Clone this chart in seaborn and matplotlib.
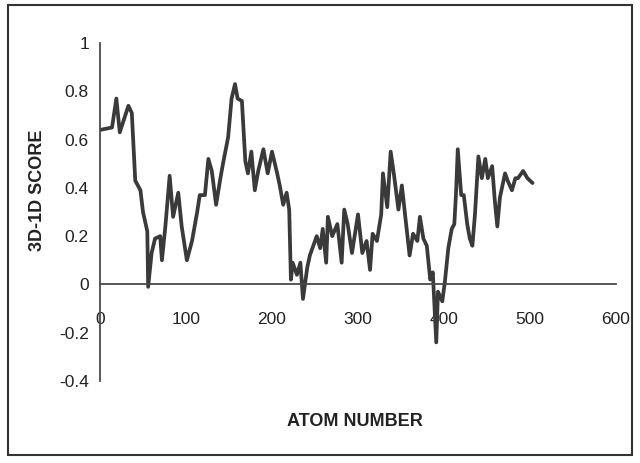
import matplotlib
matplotlib.use("Agg")
import matplotlib.pyplot as plt
from matplotlib import font_manager
from matplotlib.patches import Rectangle
import seaborn as sns
import pandas as pd

atom_number = [0, 14, 19, 23, 33, 37, 41, 47, 50, 55, 56, 60, 64, 70, 72, 76, 81, 85, 91, 95,
               101, 107, 113, 116, 122, 126, 130, 135, 140, 143, 149, 153, 157, 160, 165, 169,
               172, 176, 180, 184, 190, 195, 200, 206, 209, 213, 217, 220, 222, 224, 229, 233,
               236, 241, 244, 248, 252, 256, 259, 263, 265, 270, 276, 281, 284, 288, 293, 300,
               305, 310, 314, 317, 322, 327, 329, 334, 338, 342, 347, 351, 355, 360, 364, 369,
               372, 376, 380, 384, 387, 391, 393, 398, 401, 405, 409, 412, 414, 416, 420, 423,
               427, 430, 433, 436, 440, 444, 448, 451, 456, 459, 462, 465, 471, 474, 479, 483,
               486, 492, 497, 503]
score = [0.64, 0.65, 0.77, 0.63, 0.74, 0.71, 0.43, 0.39, 0.30, 0.22, -0.01, 0.13, 0.19, 0.20,
         0.10, 0.24, 0.45, 0.28, 0.38, 0.24, 0.10, 0.18, 0.30, 0.37, 0.37, 0.52, 0.47, 0.33,
         0.44, 0.50, 0.61, 0.77, 0.83, 0.77, 0.76, 0.51, 0.46, 0.55, 0.39, 0.47, 0.56, 0.46,
         0.55, 0.46, 0.41, 0.33, 0.38, 0.31, 0.02, 0.09, 0.04, 0.09, -0.06, 0.07, 0.12, 0.16,
         0.20, 0.15, 0.23, 0.09, 0.28, 0.20, 0.25, 0.09, 0.31, 0.25, 0.13, 0.29, 0.13, 0.18,
         0.06, 0.21, 0.18, 0.29, 0.46, 0.32, 0.55, 0.45, 0.31, 0.41, 0.28, 0.12, 0.21, 0.18,
         0.28, 0.19, 0.16, 0.02, 0.05, -0.24, -0.03, -0.07, 0.01, 0.15, 0.23, 0.25, 0.38, 0.56,
         0.37, 0.37, 0.25, 0.19, 0.16, 0.29, 0.53, 0.44, 0.52, 0.44, 0.49, 0.35, 0.24, 0.36,
         0.46, 0.43, 0.39, 0.44, 0.44, 0.47, 0.44, 0.42]

x_ticks = [0, 100, 200, 300, 400, 500, 600]
y_ticks = [-0.4, -0.2, 0, 0.2, 0.4, 0.6, 0.8, 1]
y_tick_labels = ["-0.4", "-0.2", "0", "0.2", "0.4", "0.6", "0.8", "1"]
x_title = "ATOM NUMBER"
y_title = "3D-1D SCORE"

sns.set_style("white")
names = {f.name for f in font_manager.fontManager.ttflist}
fam = "Liberation Sans Narrow" if "Liberation Sans Narrow" in names else "Liberation Sans"
plt.rcParams["font.family"] = [fam, "DejaVu Sans"]

df = pd.DataFrame({"atom": atom_number, "score": score})

fig = plt.figure(figsize=(6.4, 4.63), dpi=100)
ax = fig.add_axes([100 / 640, 1 - 381 / 463, 516 / 640, 338 / 463])
sns.lineplot(data=df, x="atom", y="score", ax=ax, color="#3a3a3a", linewidth=2.7)

ax.set_xlim(0, 600)
ax.set_ylim(-0.4, 1)
ax.set_xticks(x_ticks)
ax.set_xticklabels([str(t) for t in x_ticks])
ax.set_yticks(y_ticks)
ax.set_yticklabels(y_tick_labels)

for s in ["top", "right"]:
    ax.spines[s].set_visible(False)
ax.spines["bottom"].set_position(("data", 0))
for s in ["left", "bottom"]:
    ax.spines[s].set_color("#4a4a4a")
    ax.spines[s].set_linewidth(1.3)

ax.tick_params(axis="x", direction="out", length=4, width=1.2, color="#4a4a4a",
               pad=16, labelsize=12.5, labelcolor="#222222")
ax.tick_params(axis="y", direction="out", length=4, width=1.2, color="#4a4a4a",
               pad=4, labelsize=12.5, labelcolor="#222222")

ax.set_xlabel(x_title, fontsize=13, fontweight="bold", color="#222222")
ax.set_ylabel(y_title, fontsize=13, fontweight="bold", color="#222222")
ax.xaxis.set_label_coords(0.494, -0.095)
ax.yaxis.set_label_coords(-0.105, 0.565)
ax.grid(False)

fig.patches.append(Rectangle((8 / 640, 1 - 455 / 463), 624 / 640, 450 / 463,
                             transform=fig.transFigure, fill=False,
                             edgecolor="#333333", linewidth=1.5))

fig.savefig("out.png", dpi=100)
